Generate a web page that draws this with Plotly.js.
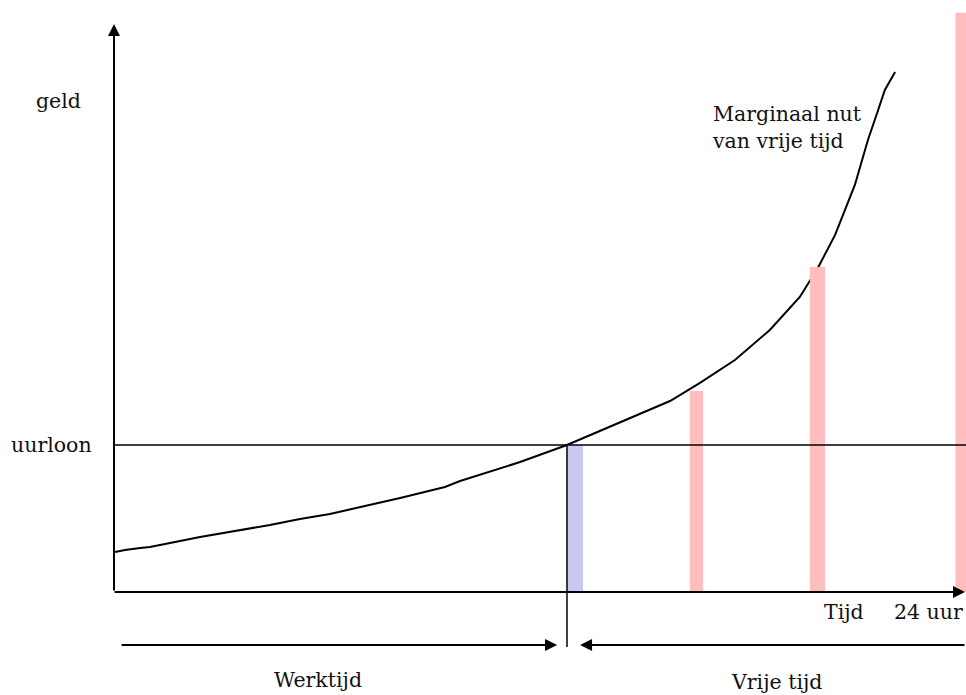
<!DOCTYPE html>
<html>
<head>
<meta charset="utf-8">
<script src="https://cdn.plot.ly/plotly-3.0.1.min.js"></script>
<style>
html,body{margin:0;padding:0;background:#fff;}
#chart{width:966px;height:695px;}
</style>
</head>
<body>
<div id="chart"></div>
<script>
// Marginal utility of free time (curve), hours on x, money on y
const curveHours = [0.03,0.31,0.74,1.02,2.44,4.42,5.27,6.12,8.11,9.38,9.81,11.51,12.84,14.63,15.76,16.61,17.60,18.59,19.44,19.95,20.44,21.00,21.37,21.66,21.85,22.14];
const curveMoney = [2.72,2.86,2.99,3.06,3.74,4.56,4.97,5.31,6.39,7.14,7.55,8.84,10.0,11.84,12.99,14.22,15.78,17.82,20.07,22.04,24.29,27.69,30.75,32.79,34.15,35.37];

// Bars
const barHours  = [13.07, 16.51, 19.94, 24.06];
const barMoney  = [10.0, 13.67, 22.1, 39.4];
const barWidths = [0.45, 0.37, 0.43, 0.42];
const barColors = ['#c8c8f0', '#ffbdbd', '#ffbdbd', '#ffbdbd'];

const wage = 10;          // uurloon
const crossHour = 12.84;  // werktijd / vrije tijd split
const xRange = [0, 24.15];
const yRange = [0, 40.27];

const labels = {
  yTop: 'geld', wage: 'uurloon', curve: 'Marginaal nut<br>van vrije tijd',
  xAxis: 'Tijd', xEnd: '24 uur', work: 'Werktijd', free: 'Vrije tijd'
};

const px = x => (x - xRange[0]) / (xRange[1] - xRange[0]);
const FONT = {family: 'DejaVu Serif, serif', size: 20.5, color: '#111'};

const traces = [
  {type: 'scatter', mode: 'lines', x: curveHours, y: curveMoney,
   line: {color: '#000', width: 2}, hoverinfo: 'skip', cliponaxis: false},
  {type: 'bar', x: barHours, y: barMoney, width: barWidths, xaxis: 'x2', yaxis: 'y2',
   marker: {color: barColors, line: {width: 0}}, hoverinfo: 'skip'}
];

const arrow = (x, y, ax, ay) => ({
  xref: 'paper', yref: 'paper', x: x, y: y, ax: ax, ay: ay,
  axref: 'pixel', ayref: 'pixel', text: '', showarrow: true,
  arrowhead: 2, arrowsize: 1.2, arrowwidth: 2, arrowcolor: '#000', standoff: 0, startstandoff: 0
});
const txt = (text, x, y, xanchor, yref) => ({
  xref: 'paper', yref: yref || 'paper', x: x, y: y, text: text, showarrow: false,
  xanchor: xanchor || 'center', yanchor: 'middle', align: 'left', font: FONT
});

const layout = {
  width: 966, height: 695,
  margin: {l: 114, r: 0, t: 0, b: 103},
  paper_bgcolor: '#fff', plot_bgcolor: '#fff',
  showlegend: false, barmode: 'overlay',
  xaxis: {range: xRange, visible: false, fixedrange: true},
  yaxis: {range: yRange, visible: false, fixedrange: true},
  xaxis2: {range: xRange, visible: false, fixedrange: true, overlaying: 'x', matches: 'x'},
  yaxis2: {range: yRange, visible: false, fixedrange: true, overlaying: 'y', matches: 'y'},
  shapes: [
    {type: 'line', xref: 'paper', yref: 'y', x0: 0, x1: 1, y0: wage, y1: wage,
     line: {color: '#000', width: 1.5}, layer: 'above'},
    {type: 'line', xref: 'paper', yref: 'paper', x0: px(crossHour), x1: px(crossHour),
     y0: wage / yRange[1], y1: -0.093, line: {color: '#000', width: 1.5}, layer: 'above'}
  ],
  annotations: [
    arrow(1, 0, -853, 0),
    arrow(0, 0.9595, 0, 568),
    arrow(0.520, -0.0895, -437, 0),
    arrow(0.547, -0.0895, 386, 0),
    txt(labels.yTop, -0.0657, 0.8294),
    txt(labels.wage, -0.0728, wage, 'center', 'y'),
    txt(labels.curve, 0.6995, 0.7846, 'left'),
    txt(labels.xAxis, 0.857, -0.0338),
    txt(labels.xEnd, 0.9985, -0.0338, 'right'),
    txt(labels.work, 0.2394, -0.1486),
    txt(labels.free, 0.778, -0.152)
  ]
};

Plotly.newPlot('chart', traces, layout, {displayModeBar: false, staticPlot: true});
</script>
</body>
</html>
